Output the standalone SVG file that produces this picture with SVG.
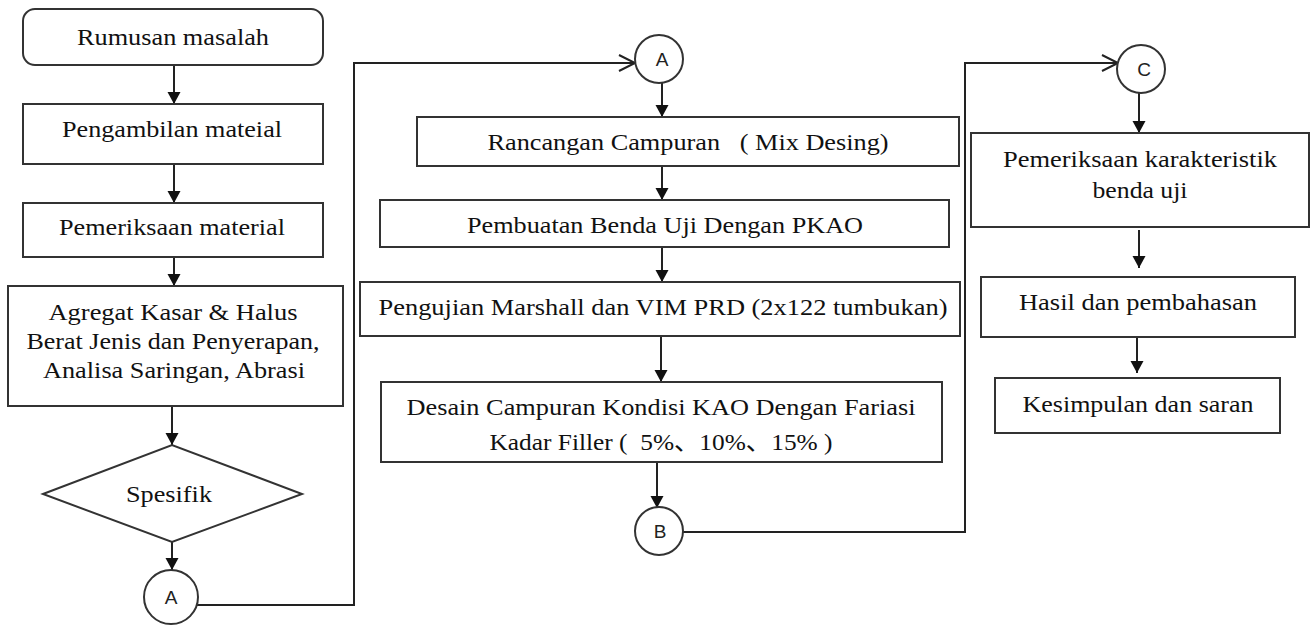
<svg xmlns="http://www.w3.org/2000/svg" width="1311" height="626" viewBox="0 0 1311 626">
<style>
.box{fill:#fff;stroke:#333;stroke-width:2}
.t{font-family:"Liberation Serif","Times New Roman",serif;font-size:24px;fill:#111;text-anchor:middle}
.c{font-family:"Liberation Sans",Arial,sans-serif;font-size:19px;fill:#222;text-anchor:middle}
.ln{fill:none;stroke:#222;stroke-width:2}
.ar{marker-end:url(#ah)}
.op{marker-end:url(#oh)}
</style>
<defs>
<marker id="ah" markerUnits="userSpaceOnUse" markerWidth="14" markerHeight="14" refX="12" refY="6.5" orient="auto" viewBox="0 0 14 14">
<path d="M0,0 L12,6.5 L0,13 z" fill="#111"/>
</marker>
<marker id="oh" markerUnits="userSpaceOnUse" markerWidth="20" markerHeight="20" refX="17" refY="9" orient="auto" viewBox="0 0 20 20">
<path d="M1,1 L17,9 L1,17" fill="none" stroke="#222" stroke-width="2"/>
</marker>
</defs>
<rect width="1311" height="626" fill="#fff"/>
<g id="connectors">
<line class="ln ar" x1="174" y1="65" x2="174" y2="104"/>
<line class="ln ar" x1="174" y1="164" x2="174" y2="203"/>
<line class="ln ar" x1="174" y1="257" x2="174" y2="286"/>
<line class="ln ar" x1="172" y1="406" x2="172" y2="445"/>
<line class="ln ar" x1="172" y1="542" x2="172" y2="570"/>
<path class="ln op" d="M197,605 H354 V63 H635"/>
<line class="ln ar" x1="662" y1="82" x2="662" y2="117"/>
<line class="ln ar" x1="662" y1="166" x2="662" y2="200"/>
<line class="ln ar" x1="662" y1="247" x2="662" y2="282"/>
<line class="ln ar" x1="661" y1="336" x2="661" y2="382"/>
<line class="ln ar" x1="657" y1="462" x2="657" y2="508"/>
<path class="ln op" d="M683,532 H965 V63 H1118"/>
<line class="ln ar" x1="1139" y1="92" x2="1139" y2="133"/>
<line class="ln ar" x1="1139" y1="230" x2="1139" y2="268"/>
<line class="ln ar" x1="1137" y1="337" x2="1137" y2="373"/>
</g>
<g id="n-rumusan">
<rect class="box" x="23" y="9" width="300" height="56" rx="12"/>
<text class="t" x="173" y="45" textLength="192" lengthAdjust="spacingAndGlyphs">Rumusan masalah</text>
</g>
<g id="n-pengambilan">
<rect class="box" x="23" y="104" width="300" height="60"/>
<text class="t" x="172" y="137" textLength="220" lengthAdjust="spacingAndGlyphs">Pengambilan mateial</text>
</g>
<g id="n-pemeriksaan">
<rect class="box" x="23" y="203" width="300" height="54"/>
<text class="t" x="172" y="235" textLength="226" lengthAdjust="spacingAndGlyphs">Pemeriksaan material</text>
</g>
<g id="n-agregat">
<rect class="box" x="8" y="286" width="335" height="120"/>
<text class="t" x="173" y="320" textLength="249" lengthAdjust="spacingAndGlyphs">Agregat Kasar &amp; Halus</text>
<text class="t" x="173" y="349" textLength="293" lengthAdjust="spacingAndGlyphs">Berat Jenis dan Penyerapan,</text>
<text class="t" x="174" y="378" textLength="262" lengthAdjust="spacingAndGlyphs">Analisa Saringan, Abrasi</text>
</g>
<g id="n-spesifik">
<polygon class="box" points="43,494 172,445 302,494 172,542"/>
<text class="t" x="169" y="502" textLength="86" lengthAdjust="spacingAndGlyphs">Spesifik</text>
</g>
<g id="n-a1">
<circle class="box" cx="171" cy="597" r="27" stroke-width="1.5"/>
<text class="c" x="171" y="604">A</text>
</g>
<g id="n-a2">
<circle class="box" cx="659" cy="59" r="24" stroke-width="1.5"/>
<text class="c" x="662" y="66">A</text>
</g>
<g id="n-rancangan">
<rect class="box" x="417" y="117" width="542" height="49"/>
<text class="t" x="688" y="150" textLength="401" lengthAdjust="spacingAndGlyphs" xml:space="preserve">Rancangan Campuran   ( Mix Desing)</text>
</g>
<g id="n-pembuatan">
<rect class="box" x="380" y="200" width="569" height="47"/>
<text class="t" x="665" y="233" textLength="396" lengthAdjust="spacingAndGlyphs">Pembuatan Benda Uji Dengan PKAO</text>
</g>
<g id="n-pengujian">
<rect class="box" x="360" y="282" width="600" height="54"/>
<text class="t" x="663" y="315" textLength="569" lengthAdjust="spacingAndGlyphs">Pengujian Marshall dan VIM PRD (2x122 tumbukan)</text>
</g>
<g id="n-desain">
<rect class="box" x="381" y="382" width="561" height="80"/>
<text class="t" x="661" y="415" textLength="509" lengthAdjust="spacingAndGlyphs">Desain Campuran Kondisi KAO Dengan Fariasi</text>
<text class="t" x="661" y="450" textLength="343" lengthAdjust="spacingAndGlyphs" xml:space="preserve" style="font-family:'Liberation Serif','Noto Sans CJK JP',serif">Kadar Filler (  5%、10%、15% )</text>
</g>
<g id="n-b">
<circle class="box" cx="659" cy="531" r="24" stroke-width="1.5"/>
<text class="c" x="660" y="538">B</text>
</g>
<g id="n-c">
<circle class="box" cx="1141" cy="69" r="24" stroke-width="1.5"/>
<text class="c" x="1144" y="76">C</text>
</g>
<g id="n-karakteristik">
<rect class="box" x="971" y="133" width="338" height="94"/>
<text class="t" x="1140" y="167" textLength="274" lengthAdjust="spacingAndGlyphs">Pemeriksaan karakteristik</text>
<text class="t" x="1140" y="198" textLength="95" lengthAdjust="spacingAndGlyphs">benda uji</text>
</g>
<g id="n-hasil">
<rect class="box" x="981" y="277" width="314" height="60"/>
<text class="t" x="1138" y="310" textLength="238" lengthAdjust="spacingAndGlyphs">Hasil dan pembahasan</text>
</g>
<g id="n-kesimpulan">
<rect class="box" x="995" y="378" width="285" height="55"/>
<text class="t" x="1138" y="412" textLength="231" lengthAdjust="spacingAndGlyphs">Kesimpulan dan saran</text>
</g>
</svg>
